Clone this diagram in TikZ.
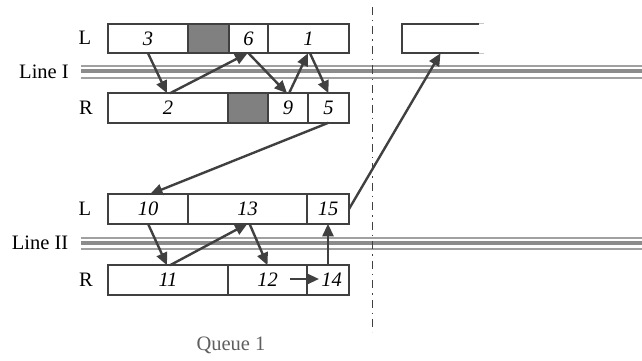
\documentclass[tikz,border=0pt]{standalone}
\usepackage{fontspec}
\setmainfont{Liberation Serif}
\usetikzlibrary{arrows.meta}
\definecolor{edge}{RGB}{64,64,64}
\definecolor{shade}{RGB}{128,128,128}
\definecolor{railthin}{RGB}{160,160,160}
\definecolor{railmid}{RGB}{140,140,140}
\definecolor{caption}{RGB}{95,95,95}
\definecolor{fade}{RGB}{200,200,200}

\begin{document}
\begin{tikzpicture}[x=1pt,y=-1pt,
  cell/.style={draw=edge,line width=2.4pt,minimum height=29.5pt,inner sep=0pt,outer sep=0pt,
    font=\fontsize{20.5}{24}\selectfont\itshape},
  blocked/.style={cell,fill=shade},
  lbl/.style={font=\fontsize{20.5}{24}\selectfont,inner sep=0pt},
  flow/.style={draw=edge,line width=2.4pt,-{Triangle[length=12.5pt,width=11pt]}},
  railthin/.style={draw=railthin,line width=2.2pt},
  railmid/.style={draw=railmid,line width=4.4pt},
  divide/.style={draw=edge,line width=1.8pt,dash pattern=on 8pt off 5pt on 1.5pt off 5pt}]

\useasboundingbox (0,0) rectangle (642,361);

% ---- Line I pair of rows ----
\node[lbl] (L1) at (85,38) {L};
\node[lbl] (R1) at (86,107.5) {R};
\node[lbl] (line1) at (44,72) {Line I};

\draw[railthin] (81,66) -- (642,66);
\draw[railmid]  (81,71.2) -- (642,71.2);
\draw[railthin] (81,78.2) -- (642,78.2);

\node[cell,minimum width=80pt]    (c3) at (148,38.5)   {3};
\node[blocked,minimum width=41pt] (g1) at (208.5,38.5) {};
\node[cell,minimum width=39pt]    (c6) at (248.5,38.5) {6};
\node[cell,minimum width=81pt]    (c1) at (308.5,38.5) {1};

\node[cell,minimum width=120pt]   (c2) at (168,108)   {2};
\node[blocked,minimum width=40pt] (g2) at (248,108)   {};
\node[cell,minimum width=40pt]    (c9) at (288,108)   {9};
\node[cell,minimum width=41pt]    (c5) at (328.5,108) {5};

% ---- Line II pair of rows ----
\node[lbl] (L2) at (85,209) {L};
\node[lbl] (R2) at (86,279.5) {R};
\node[lbl] (line2) at (40,243) {Line II};

\draw[railthin] (81,237.8) -- (642,237.8);
\draw[railmid]  (81,242.7) -- (642,242.7);
\draw[railthin] (81,248.8) -- (642,248.8);

\node[cell,minimum width=80pt]  (c10) at (148,209)   {10};
\node[cell,minimum width=119pt] (c13) at (247.5,209) {13};
\node[cell,minimum width=42pt]  (c15) at (328,209)   {15};

\node[cell,minimum width=120pt] (c11) at (168,280)   {11};
\node[cell,minimum width=79pt]  (c12) at (267.5,280) {12};
\node[cell,minimum width=42pt]  (c14) at (328,280)   {\hspace*{7pt}14};

% ---- open-ended slot beyond the divider ----
\node[minimum width=77pt,minimum height=29.5pt,inner sep=0pt,outer sep=0pt] (nx) at (440.5,38.5) {};
\draw[edge,line width=2.4pt] (nx.north east) -- (nx.north west) -- (nx.south west) -- (nx.south east);
\draw[fade,line width=1.2pt] (nx.north east) -- ++(5,0);
\draw[fade,line width=1.2pt] (nx.south east) -- ++(5,0);

% ---- divider ----
\coordinate (dtop) at (372.5,7);
\coordinate (dbot) at (372.5,332);
\draw[divide] (dtop) -- (dbot);

% ---- moves ----
\draw[flow] (c3.south) -- ([xshift=-1pt]c2.north);
\draw[flow] ([xshift=2pt]c2.north) -- ([xshift=-1pt]c6.south);
\draw[flow] (c6.south) -- ([xshift=-1pt]c9.north);
\draw[flow] ([xshift=1pt]c9.north) -- ([xshift=-0.5pt]c1.south);
\draw[flow] ([xshift=1.5pt]c1.south) -- (c5.north);
\draw[flow] (c5.south) -- ([xshift=2pt]c10.north);

\draw[flow] (c10.south) -- ([xshift=-1pt]c11.north);
\draw[flow] ([xshift=2pt]c11.north) -- (c13.south);
\draw[flow] ([xshift=2pt]c13.south) -- (c12.north);
\draw[flow] ([xshift=22.5pt,yshift=1pt]c12.center) -- ([xshift=-9pt,yshift=1pt]c14.center);
\draw[flow] (c14.north) -- (c15.south);
\draw[flow] (c15.east) -- (nx.south);

% ---- caption ----
\node[lbl,text=caption,anchor=base] (cap) at (231,350) {Queue 1};
\end{tikzpicture}
\end{document}
